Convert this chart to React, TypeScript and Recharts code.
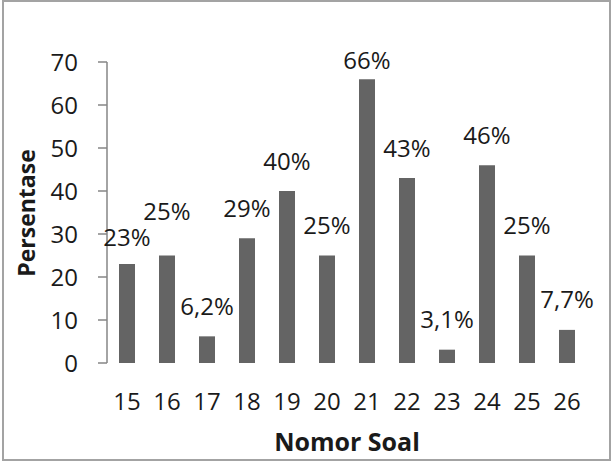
import React from 'react'
import { BarChart, Bar, XAxis, YAxis, LabelList, Label } from 'recharts'

// question numbers and the share (%) of students per question
const soal = [15, 16, 17, 18, 19, 20, 21, 22, 23, 24, 25, 26]
const persentase = [23, 25, 6.2, 29, 40, 25, 66, 43, 3.1, 46, 25, 7.7]
const yTicks = [0, 10, 20, 30, 40, 50, 60, 70]

const data = soal.map((s, i) => ({ soal: s, persen: persentase[i] }))
// tick marks sit between the categories, like the spreadsheet original
const batas = [...soal.map((s) => s - 0.5), soal[soal.length - 1] + 0.5]
const domain: [number, number] = [batas[0], batas[batas.length - 1]]

const FONT = '"Open Sans", sans-serif'
const TEXT = '#1a1a1a'
const AXIS = '#868686'

// a few labels were dragged a bit away from the default spot
const geser: Record<number, number> = { 0: -3, 1: 14, 6: -11 }

const formatPersen = (v: number) => `${String(v).replace('.', ',')}%`

const BarLabel = (props: any) => {
  const { x, y, width, value, index } = props
  const cx = Number(x) + Number(width) / 2
  const cy = Number(y) - 31 - (geser[index] ?? 0)
  return (
    <text x={cx} y={cy} textAnchor="middle" dominantBaseline="central" fontSize={24} fill={TEXT}>
      {formatPersen(value)}
    </text>
  )
}

export default function App() {
  return (
    <div style={{ position: 'absolute', left: 0, top: 0, width: 612, height: 463, background: '#fff', fontFamily: FONT }}>
      <div
        style={{
          position: 'absolute',
          left: 2,
          top: 0,
          width: 609,
          height: 461,
          border: '2px solid #a3a3a3',
          boxSizing: 'border-box',
        }}
      />
      <div style={{ position: 'absolute', left: 0, top: 0 }}>
        <BarChart width={612} height={463} data={data} margin={{ top: 62, right: 25, bottom: 40, left: 27 }}>
          <XAxis
            xAxisId="batas"
            type="number"
            dataKey="soal"
            domain={domain}
            ticks={batas}
            interval={0}
            tick={false}
            tickSize={8}
            height={0}
            axisLine={{ stroke: AXIS, strokeWidth: 1.5 }}
            tickLine={{ stroke: AXIS, strokeWidth: 1.5 }}
          />
          <XAxis
            xAxisId="soal"
            type="number"
            dataKey="soal"
            domain={domain}
            ticks={soal}
            interval={0}
            axisLine={false}
            tickLine={false}
            tickSize={0}
            tickMargin={30}
            height={60}
            tick={{ fontSize: 24, fill: TEXT }}
          >
            <Label
              content={() => (
                <text x={347} y={441} textAnchor="middle" dominantBaseline="central" fontSize={25} fontWeight="bold" fill={TEXT}>
                  Nomor Soal
                </text>
              )}
            />
          </XAxis>
          <YAxis
            domain={[0, 70]}
            ticks={yTicks}
            interval={0}
            width={80}
            tickSize={9}
            tickMargin={20}
            axisLine={{ stroke: AXIS, strokeWidth: 1.5 }}
            tickLine={{ stroke: AXIS, strokeWidth: 1.5 }}
            tick={{ fontSize: 24, fill: TEXT }}
          >
            <Label
              content={() => (
                <text
                  x={26}
                  y={213}
                  transform="rotate(-90 26 213)"
                  textAnchor="middle"
                  dominantBaseline="central"
                  fontSize={23}
                  fontWeight="bold"
                  fill={TEXT}
                >
                  Persentase
                </text>
              )}
            />
          </YAxis>
          <Bar dataKey="persen" xAxisId="soal" fill="#646464" barSize={16} isAnimationActive={false}>
            <LabelList dataKey="persen" content={BarLabel} />
          </Bar>
        </BarChart>
      </div>
    </div>
  )
}
